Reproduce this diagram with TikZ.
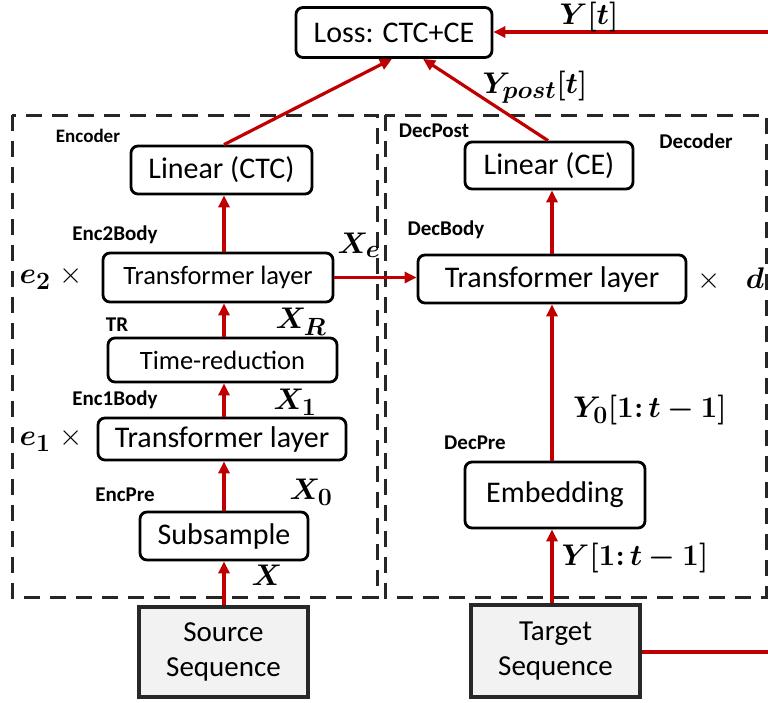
\documentclass[tikz,border=0pt]{standalone}
\usepackage[no-math]{fontspec}
\setmainfont{Carlito}
\usepackage{bm}
\usetikzlibrary{arrows.meta,calc}
\definecolor{arrred}{RGB}{192,0,0}
\definecolor{srcgray}{RGB}{242,242,242}
\definecolor{srcedge}{RGB}{40,40,40}
\newcommand\mlbl[1]{\scalebox{1.2}{$#1$}}
\begin{document}
\begin{tikzpicture}[x=1pt,y=-1pt,
  blk/.style={draw=black,line width=2.8pt,rounded corners=7pt,inner sep=0pt,
    font=\fontsize{30}{34}\selectfont},
  srcbox/.style={draw=srcedge,fill=srcgray,line width=3.5pt,inner sep=0pt,align=center,
    font=\fontsize{29}{35}\selectfont},
  arr/.style={draw=arrred,line width=3.2pt,-{Triangle[length=12pt,width=11pt]}},
  redline/.style={draw=arrred,line width=3.2pt},
  group/.style={draw=black!85,line width=3pt,dash pattern=on 16pt off 10pt},
  tag/.style={font=\fontsize{21}{24}\selectfont\bfseries,inner sep=0pt},
  mlab/.style={font=\fontsize{24.88}{30}\selectfont,inner sep=0pt},
]
\useasboundingbox (0,0) rectangle (768,702);

% group frames
\draw[group] (12,115) rectangle (377,597);
\draw[group] (385,115) rectangle (766,597);

% blocks
\node[blk,minimum width=196pt,minimum height=50pt] (loss) at (394,32.5) {Loss: CTC+CE};
\node[blk,minimum width=181pt,minimum height=48pt] (linctc) at (221.5,170) {Linear (CTC)};
\node[blk,minimum width=168pt,minimum height=47pt] (lince) at (549,165.5) {Linear (CE)};
\node[blk,minimum width=230pt,minimum height=49pt,font=\fontsize{26.5}{30}\selectfont] (enc2) at (218,277.5) {Transformer layer};
\node[blk,minimum width=268pt,minimum height=48pt] (dectl) at (552,279) {Transformer layer};
\node[blk,minimum width=229pt,minimum height=44pt,font=\fontsize{26.5}{30}\selectfont] (tr) at (222.5,360) {Time-reduction};
\node[blk,minimum width=248pt,minimum height=42pt] (enc1) at (222,439) {Transformer layer};
\node[blk,minimum width=168pt,minimum height=48pt] (sub) at (224,536) {Subsample};
\node[blk,minimum width=180pt,minimum height=66pt] (emb) at (555,495) {Embedding};
\node[srcbox,minimum width=169pt,minimum height=90pt] (src) at (223.5,652) {Source\\Sequence};
\node[srcbox,minimum width=169pt,minimum height=92pt] (tgt) at (555.5,651) {Target\\Sequence};

% free ends at the right edge
\coordinate (yin) at (768,32);
\coordinate (tout) at (768,652);

% encoder connectors
\draw[arr] (src.north -| sub) -- (sub.south);
\draw[arr] (sub.north) -- (sub.north |- enc1.south);
\draw[arr] (enc1.north -| sub) -- (tr.south -| sub);
\draw[arr] (tr.north -| sub) -- (enc2.south -| sub);
\draw[arr] (enc2.north -| sub) -- (linctc.south -| sub);
\draw[arr] (linctc.north -| sub) -- ([xshift=-2pt]loss.south);

% decoder connectors
\draw[arr] (tgt.north -| dectl) -- (emb.south -| dectl);
\draw[arr] (emb.north -| dectl) -- (dectl.south);
\draw[arr] (dectl.north) -- (lince.south -| dectl);
\draw[arr] ([xshift=-1pt]lince.north) -- ([xshift=29pt]loss.south);

% cross connectors
\draw[arr] (enc2.east) -- (enc2.east -| dectl.west);
\draw[arr] (yin) -- (loss.east |- yin);
\draw[redline] (tgt.east |- tout) -- (tout);

% tags
\node[tag,font=\fontsize{19}{22}\selectfont\bfseries] (tEnc) at (88,136) {Encoder};
\node[tag] (tDecPost) at (434,131) {DecPost};
\node[tag] (tDecoder) at (696,141) {Decoder};
\node[tag] (tDecBody) at (446,230) {DecBody};
\node[tag] (tEnc2) at (115,235) {Enc2Body};
\node[tag] (tTR) at (117,325) {TR};
\node[tag] (tEnc1) at (115,400) {Enc1Body};
\node[tag] (tEncPre) at (125,495) {EncPre};
\node[tag] (tDecPre) at (475,443) {DecPre};

% math labels
\node[mlab] (lYt) at (589,17) {\mlbl{\bm{Y[t]}}};
\node[mlab] (lYpost) at (535,87) {\mlbl{\bm{Y_{post}[t]}}};
\node[mlab] (lXe) at (359,245) {\mlbl{\bm{X_e}}};
\node[mlab] (lXR) at (301,322) {\mlbl{\bm{X_R}}};
\node[mlab] (lX1) at (295,402) {\mlbl{\bm{X_1}}};
\node[mlab] (lX0) at (311,492) {\mlbl{\bm{X_0}}};
\node[mlab] (lX) at (267,575) {\mlbl{\bm{X}}};
\node[mlab] (le2) at (51,278) {\mlbl{\bm{e_2}\;\times}};
\node[mlab] (le1) at (51,440) {\mlbl{\bm{e_1}\;\times}};
\node[mlab] (ld) at (731,279) {\mlbl{\times\;\;\;\bm{d}}};
\node[mlab] (lY0) at (650,410) {\mlbl{\bm{Y_0[1\colon t-1]}}};
\node[mlab] (lY1) at (635,558) {\mlbl{\bm{Y[1\colon t-1]}}};
\end{tikzpicture}
\end{document}
